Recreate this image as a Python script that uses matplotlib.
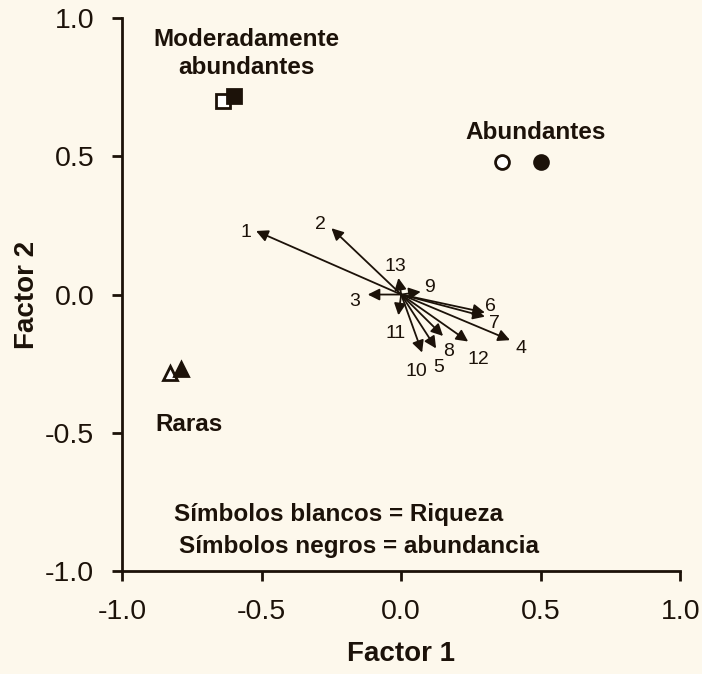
import matplotlib.pyplot as plt

ink = '#1c1209'
bg = '#fdf8ec'

# arrow (variable) loadings
var_labels = ['1', '2', '3', '4', '5', '6', '7', '8', '9', '10', '11', '12', '13']
var_x = [-0.52, -0.25, -0.12, 0.39, 0.125, 0.30, 0.30, 0.15, 0.07, 0.075, -0.01, 0.24, -0.01]
var_y = [0.23, 0.24, 0.00, -0.165, -0.195, -0.065, -0.08, -0.15, 0.01, -0.21, -0.075, -0.17, 0.06]
lab_x = [-0.555, -0.29, -0.165, 0.43, 0.135, 0.32, 0.335, 0.17, 0.10, 0.055, -0.02, 0.275, -0.02]
lab_y = [0.225, 0.255, -0.025, -0.195, -0.265, -0.045, -0.105, -0.205, 0.025, -0.28, -0.14, -0.235, 0.10]

# groups: white symbols = richness, black = abundance
groups = ['Moderadamente\nabundantes', 'Abundantes', 'Raras']
markers = ['s', 'o', '^']
rich_x = [-0.64, 0.36, -0.83]
rich_y = [0.70, 0.48, -0.285]
abun_x = [-0.60, 0.50, -0.79]
abun_y = [0.72, 0.48, -0.27]
grp_tx = [-0.555, 0.48, -0.76]
grp_ty = [0.872, 0.587, -0.472]

plt.rcParams['font.family'] = ['Liberation Sans', 'DejaVu Sans']

fig = plt.figure(figsize=(7.02, 6.74), dpi=100, facecolor=bg)
ax = fig.add_axes([0.174, 0.153, 0.795, 0.82])
ax.set_facecolor(bg)

for i in range(len(var_labels)):
    ax.annotate('', xy=(var_x[i], var_y[i]), xytext=(0, 0),
                arrowprops=dict(arrowstyle='-|>,head_length=0.5,head_width=0.25',
                                color=ink, lw=1.3,
                                mutation_scale=14, shrinkA=0, shrinkB=0))
    ax.text(lab_x[i], lab_y[i], var_labels[i], fontsize=14, color=ink,
            ha='center', va='center')

for i in range(len(groups)):
    ax.plot(rich_x[i], rich_y[i], marker=markers[i], ms=10, mfc='white',
            mec=ink, mew=2, ls='none')
    ax.plot(abun_x[i], abun_y[i], marker=markers[i], ms=10, mfc=ink,
            mec=ink, mew=2, ls='none')
    ax.text(grp_tx[i], grp_ty[i], groups[i], fontsize=17.5, fontweight='bold',
            color=ink, ha='center', va='center', linespacing=1.25)

ax.text(-0.815, -0.797, 'Símbolos blancos = Riqueza', fontsize=17.5,
        fontweight='bold', color=ink, ha='left', va='center')
ax.text(-0.795, -0.913, 'Símbolos negros = abundancia', fontsize=17.5,
        fontweight='bold', color=ink, ha='left', va='center')

ax.set_xlim(-1, 1)
ax.set_ylim(-1, 1)
ticks = [-1.0, -0.5, 0.0, 0.5, 1.0]
ax.set_xticks(ticks)
ax.set_yticks(ticks)
ax.set_xticklabels(['%.1f' % t for t in ticks])
ax.set_yticklabels(['%.1f' % t for t in ticks])
for s in ['top', 'right']:
    ax.spines[s].set_visible(False)
for s in ['left', 'bottom']:
    ax.spines[s].set_linewidth(2)
    ax.spines[s].set_color(ink)
ax.tick_params(direction='out', length=7, width=2, color=ink,
               labelsize=20.5, labelcolor=ink, pad=13)

ax.set_xlabel('Factor 1', fontsize=20, fontweight='bold', color=ink, labelpad=12)
ax.set_ylabel('Factor 2', fontsize=20, fontweight='bold', color=ink, labelpad=4)

fig.savefig('out.png', dpi=100, facecolor=bg)
